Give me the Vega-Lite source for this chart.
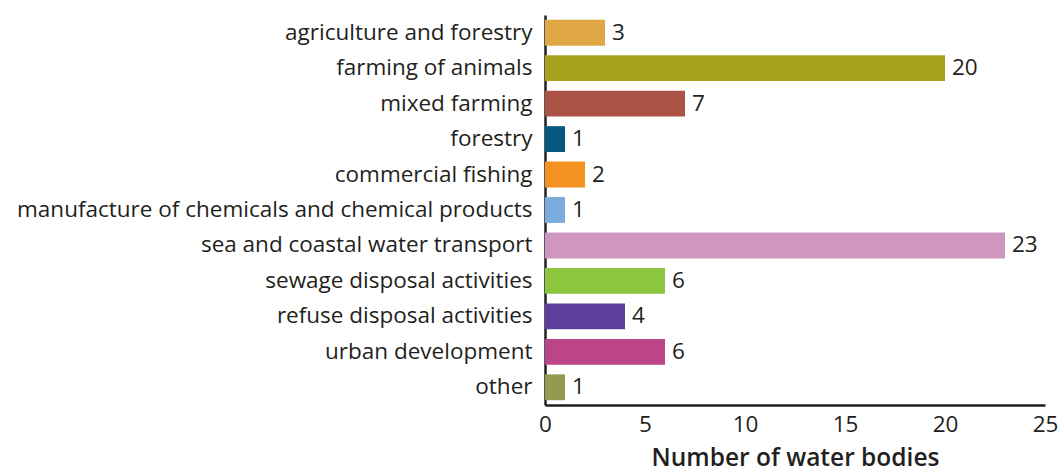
{
  "$schema": "https://vega.github.io/schema/vega-lite/v6.json",
  "autosize": {"type": "none"},
  "padding": {"left": 545, "top": 15, "right": 13, "bottom": 69},
  "width": 500,
  "height": 390,
  "background": "white",
  "config": {
    "view": {"stroke": null},
    "font": "Open Sans",
    "axis": {"labelFont": "Open Sans", "titleFont": "Open Sans"}
  },
  "data": {
    "values": [
      {"activity": "agriculture and forestry", "count": 3, "color": "#DFA845"},
      {"activity": "farming of animals", "count": 20, "color": "#A9A21F"},
      {"activity": "mixed farming", "count": 7, "color": "#AA5245"},
      {"activity": "forestry", "count": 1, "color": "#065A82"},
      {"activity": "commercial fishing", "count": 2, "color": "#F39121"},
      {"activity": "manufacture of chemicals and chemical products", "count": 1, "color": "#7BAADD"},
      {"activity": "sea and coastal water transport", "count": 23, "color": "#CF96C0"},
      {"activity": "sewage disposal activities", "count": 6, "color": "#8CC63F"},
      {"activity": "refuse disposal activities", "count": 4, "color": "#5B3F9B"},
      {"activity": "urban development", "count": 6, "color": "#BC4588"},
      {"activity": "other", "count": 1, "color": "#969A50"}
    ]
  },
  "encoding": {
    "y": {
      "field": "activity",
      "type": "nominal",
      "sort": null,
      "scale": {"paddingInner": 0.27, "paddingOuter": 0.135},
      "axis": {
        "title": null,
        "ticks": false,
        "domainColor": "#231F20",
        "domainWidth": 2.5,
        "labelFontSize": 22.5,
        "labelColor": "#231F20",
        "labelPadding": 13,
        "labelLimit": 600
      }
    },
    "x": {
      "field": "count",
      "type": "quantitative",
      "scale": {"domain": [0, 25], "nice": false},
      "axis": {
        "title": "Number of water bodies",
        "values": [0, 5, 10, 15, 20, 25],
        "grid": false,
        "ticks": false,
        "domainColor": "#231F20",
        "domainWidth": 2.5,
        "labelFontSize": 22.5,
        "labelColor": "#231F20",
        "labelPadding": 8,
        "labelFlush": false,
        "titleFontSize": 24.5,
        "titleFontWeight": 600,
        "titleColor": "#231F20",
        "titlePadding": 11
      }
    }
  },
  "layer": [
    {
      "mark": {"type": "bar"},
      "encoding": {
        "color": {"field": "color", "type": "nominal", "scale": null, "legend": null}
      }
    },
    {
      "mark": {"type": "text", "align": "left", "baseline": "middle", "dx": 7, "fontSize": 22.5, "color": "#231F20"},
      "encoding": {"text": {"field": "count", "type": "quantitative"}}
    }
  ]
}
